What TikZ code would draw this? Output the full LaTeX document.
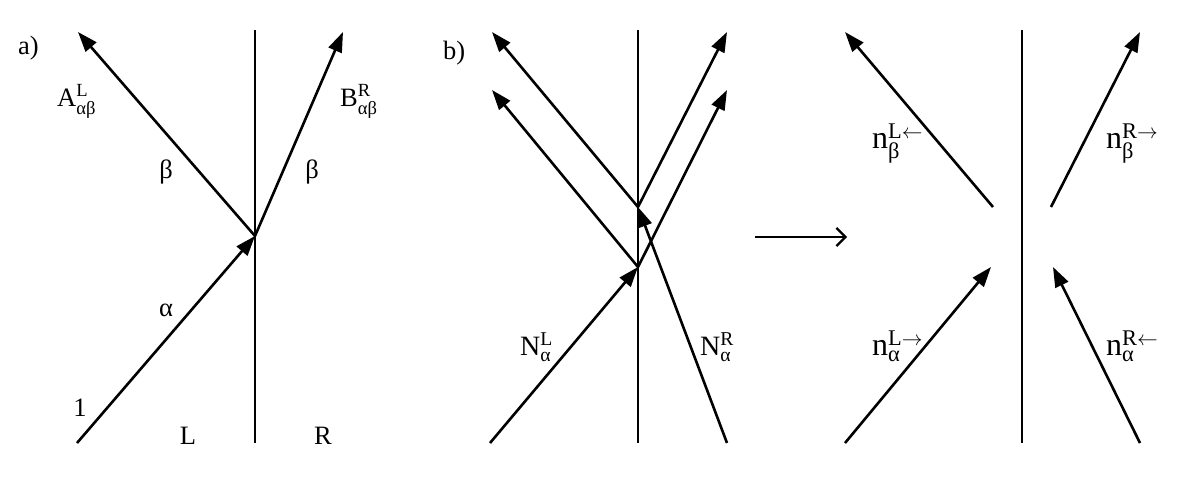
\documentclass[tikz,border=0pt]{standalone}
\usepackage{amsmath}
\usepackage{fontspec}
\setmainfont{Liberation Serif}
\usetikzlibrary{arrows.meta}
\begin{document}
\begin{tikzpicture}[x=1pt,y=-1pt,
    ray/.style={line width=2.6pt,-{Triangle[length=20pt,width=14pt]}},
    wall/.style={line width=2.6pt},
    lbl/.style={inner sep=0pt,anchor=base west},
    mid/.style={inner sep=0pt},
    fa/.style={font=\fontsize{26.5}{30}\selectfont},
    fb/.style={font=\fontsize{28}{32}\selectfont},
    fc/.style={font=\fontsize{32}{36}\selectfont}]
\useasboundingbox (0,0) rectangle (1188,498);

% ---------- panel a ----------
\coordinate (aTop) at (255,30);
\coordinate (aBot) at (255,443);
\coordinate (aHit) at (255,236);
\coordinate (aIn) at (77,443);
\coordinate (aRefl) at (78,32);
\coordinate (aTrans) at (343,32);
\draw[wall] (aTop) -- (aBot);
\draw[ray] (aIn) -- (aHit);
\draw[ray] (aHit) -- (aRefl);
\draw[ray] (aHit) -- (aTrans);

\node[lbl,fa] (labA) at (18,54) {a)};
\node[lbl,fa] (ampA) at (57,106) {A$^{\text{L}}_{\text{αβ}}$};
\node[lbl,fa] (ampB) at (340,106) {B$^{\text{R}}_{\text{αβ}}$};
\node[mid,fa] (betaL) at (166,172) {β};
\node[mid,fa] (betaR) at (312,172) {β};
\node[mid,fa] (alpha) at (166,310) {α};
\node[mid,fa] (one) at (80,408) {1};
\node[mid,fa] (sideL) at (188,436) {L};
\node[mid,fa] (sideR) at (323,436) {R};

% ---------- panel b ----------
\coordinate (bTop) at (638,30);
\coordinate (bBot) at (638,443);
\coordinate (bHitL) at (638,267);
\coordinate (bHitR) at (638,207);
\coordinate (bInL) at (490,443);
\coordinate (bInR) at (727,443);
\coordinate (bOutLL) at (492,90);
\coordinate (bOutLR) at (727,90);
\coordinate (bOutRL) at (492,32);
\coordinate (bOutRR) at (727,32);
\draw[wall] (bTop) -- (bBot);
\draw[ray] (bInL) -- (bHitL);
\draw[ray] (bHitL) -- (bOutLL);
\draw[ray] (bHitL) -- (bOutLR);
\draw[ray] (bInR) -- (bHitR);
\draw[ray] (bHitR) -- (bOutRL);
\draw[ray] (bHitR) -- (bOutRR);

\node[lbl,fa] (labB) at (443,59) {b)};
\node[lbl,fb] (NL) at (520,355) {N$^{\text{L}}_{\text{α}}$};
\node[lbl,fb] (NR) at (700,355) {N$^{\text{R}}_{\text{α}}$};

% ---------- transition arrow ----------
\coordinate (tFrom) at (755,237);
\coordinate (tTo) at (847,237);
\draw[line width=2.3pt,-{Straight Barb[length=9pt,width=18pt,line width=2.3pt]}] (tFrom) -- (tTo);

% ---------- panel c ----------
\coordinate (cTop) at (1022,30);
\coordinate (cBot) at (1022,443);
\coordinate (cInLs) at (845,443);
\coordinate (cInLe) at (991,267);
\coordinate (cInRs) at (1140,443);
\coordinate (cInRe) at (1053,267);
\coordinate (cOutLs) at (993,207);
\coordinate (cOutLe) at (845,32);
\coordinate (cOutRs) at (1051,207);
\coordinate (cOutRe) at (1140,32);
\draw[wall] (cTop) -- (cBot);
\draw[ray] (cInLs) -- (cInLe);
\draw[ray] (cInRs) -- (cInRe);
\draw[ray] (cOutLs) -- (cOutLe);
\draw[ray] (cOutRs) -- (cOutRe);

\node[lbl,fc] (nLb) at (872,148) {n$^{\text{L}\leftarrow}_{\text{β}}$};
\node[lbl,fc] (nRb) at (1106,148) {n$^{\text{R}\rightarrow}_{\text{β}}$};
\node[lbl,fc] (nLa) at (872,355) {n$^{\text{L}\rightarrow}_{\text{α}}$};
\node[lbl,fc] (nRa) at (1106,355) {n$^{\text{R}\leftarrow}_{\text{α}}$};
\end{tikzpicture}
\end{document}
